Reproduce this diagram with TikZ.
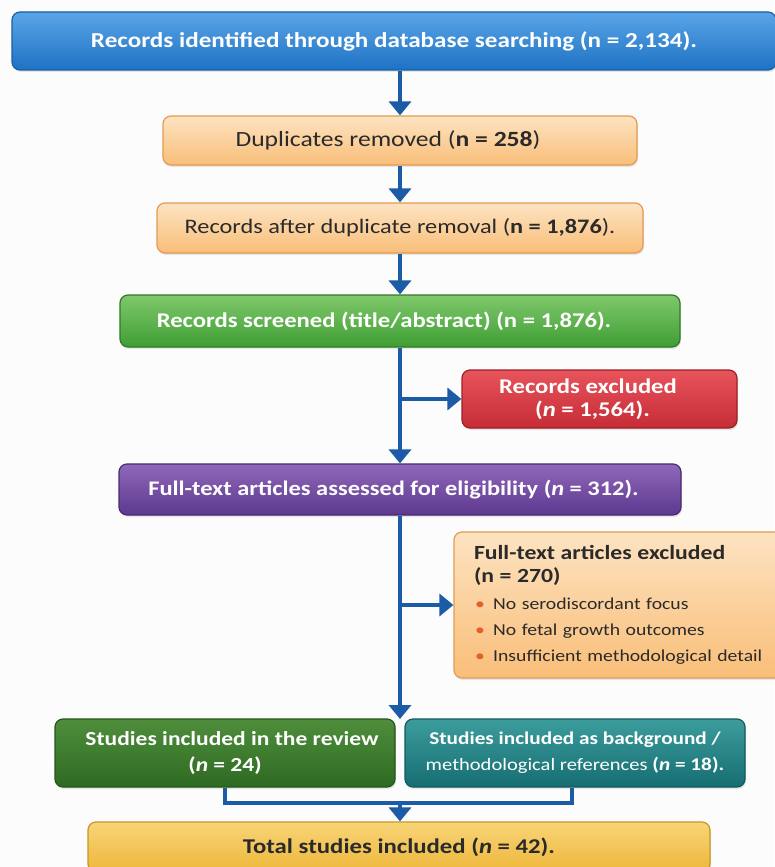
\documentclass[tikz,border=0pt]{standalone}
\usepackage{fontspec}
\setmainfont[FakeStretch=1.18]{Carlito}
\usetikzlibrary{arrows.meta,shadows}
\definecolor{bgc}{HTML}{FCFCFC}
\definecolor{arrowc}{HTML}{1C5CA6}
\definecolor{blueA}{HTML}{5AA5E6}
\definecolor{blueB}{HTML}{1E72C4}
\definecolor{blueD}{HTML}{1A5EA6}
\definecolor{orA}{HTML}{FDE3C2}
\definecolor{orB}{HTML}{F9BE78}
\definecolor{orD}{HTML}{E39A52}
\definecolor{grA}{HTML}{80C86C}
\definecolor{grB}{HTML}{3F9E34}
\definecolor{grD}{HTML}{2F7A28}
\definecolor{rdA}{HTML}{E8545C}
\definecolor{rdB}{HTML}{C62C35}
\definecolor{rdD}{HTML}{9C1F27}
\definecolor{puA}{HTML}{9068BA}
\definecolor{puB}{HTML}{5C388F}
\definecolor{puD}{HTML}{482A75}
\definecolor{dgA}{HTML}{4F8E3C}
\definecolor{dgB}{HTML}{2E6A22}
\definecolor{dgD}{HTML}{24561A}
\definecolor{tlA}{HTML}{3C9C9C}
\definecolor{tlB}{HTML}{166E72}
\definecolor{tlD}{HTML}{115A5E}
\definecolor{ylA}{HTML}{F8D478}
\definecolor{ylB}{HTML}{EDB73A}
\definecolor{ylD}{HTML}{C9961F}
\definecolor{darktext}{HTML}{2A2A2A}
\definecolor{bulletc}{HTML}{E2602A}
\begin{document}
\begin{tikzpicture}[x=1pt,y=-1pt,
  box/.style={rectangle, rounded corners=8pt, line width=1.2pt, align=center, inner sep=0pt,
    drop shadow={opacity=0.18, shadow xshift=1pt, shadow yshift=-2pt}},
  flow/.style={draw=arrowc, line width=4pt, -{Triangle[width=22pt,length=14pt]}},
  link/.style={draw=arrowc, line width=4pt, line join=miter}]
\useasboundingbox (0,0) rectangle (774,867);
\fill[bgc] (0,0) rectangle (774,867);

\node[box, top color=blueA, bottom color=blueB, draw=blueD, minimum width=764pt, minimum height=58pt,
  text=white, font=\bfseries\fontsize{21.3}{25}\selectfont] (ident) at (394,41)
  {Records identified through database searching (n = 2,134).};

\node[box, top color=orA, bottom color=orB, draw=orD, minimum width=474pt, minimum height=49pt,
  text=darktext, font=\fontsize{21.7}{25}\selectfont] (dup) at (400,140.5)
  {Duplicates removed (\textbf{n = 258})\hspace*{24pt}};

\node[box, top color=orA, bottom color=orB, draw=orD, minimum width=486pt, minimum height=50pt,
  text=darktext, font=\fontsize{20.6}{25}\selectfont] (after) at (400,228)
  {Records after duplicate removal (\textbf{n = 1,876}).};

\node[box, top color=grA, bottom color=grB, draw=grD, minimum width=560pt, minimum height=52pt,
  text=white, font=\bfseries\fontsize{20.9}{25}\selectfont] (screen) at (400,321)
  {Records screened (title/abstract) (n = 1,876).\hspace*{32pt}};

\node[box, top color=rdA, bottom color=rdB, draw=rdD, minimum width=275pt, minimum height=58pt,
  text=white, font=\bfseries\fontsize{20.9}{22.5}\selectfont] (recex) at (599.5,399)
  {Records excluded\hspace*{23pt}\\(\textit{n} = 1,564).\hspace*{14pt}};

\node[box, top color=puA, bottom color=puB, draw=puD, minimum width=562pt, minimum height=51pt,
  text=white, font=\bfseries\fontsize{20.7}{25}\selectfont] (full) at (400,489.5)
  {Full-text articles assessed for eligibility (\textit{n} = 312).\hspace*{13pt}};

\node[box, top color=orA, bottom color=orB, draw=orD, minimum height=146pt,
  text width=290pt, inner xsep=20pt, align=left,
  text=darktext, font=\fontsize{16.7}{26}\selectfont] (fullex) at (619,605)
  {{\bfseries\fontsize{20.1}{23}\selectfont Full-text articles excluded}\\[-3pt]
   {\bfseries\fontsize{20.1}{23}\selectfont (n = 270)}\\[1pt]
   \hspace*{1pt}{\color{bulletc}\textbullet}\, No serodiscordant focus\\
   \hspace*{1pt}{\color{bulletc}\textbullet}\, No fetal growth outcomes\\
   \hspace*{1pt}{\color{bulletc}\textbullet}\, Insufficient methodological detail};

\node[box, top color=dgA, bottom color=dgB, draw=dgD, minimum width=340pt, minimum height=68pt,
  text=white, font=\bfseries\fontsize{19.9}{26}\selectfont] (incl) at (225,753)
  {\hspace*{14pt}Studies included in the review\\(\textit{n} = 24)};

\node[box, top color=tlA, bottom color=tlB, draw=tlD, minimum width=340pt, minimum height=68pt,
  text=white, font=\bfseries\fontsize{18}{26}\selectfont] (backg) at (575,753)
  {Studies included as background /\\{\mdseries\fontsize{17.4}{26}\selectfont methodological references} (\textit{n} = 18).};

\node[box, top color=ylA, bottom color=ylB, draw=ylD, minimum width=622pt, minimum height=50pt,
  text=darktext, font=\bfseries\fontsize{21}{25}\selectfont] (total) at (399,847)
  {Total studies included (\textit{n} = 42).};

\coordinate (gap) at (400,719);
\coordinate (merge) at (400,803);

\draw[flow] (ident.south -| dup.north) -- (dup.north);
\draw[flow] (dup.south) -- (after.north);
\draw[flow] (after.south) -- (screen.north);
\draw[flow] (screen.south) -- (full.north);
\draw[flow] (screen.south |- recex.west) -- (recex.west);
\draw[flow] (full.south) -- (gap);
\draw[flow] (full.south |- fullex.west) -- (fullex.west);
\draw[link] (incl.south) |- (merge) -| ([xshift=-3pt]backg.south);
\draw[flow] (merge) -- (total.north -| merge);
\end{tikzpicture}
\end{document}
